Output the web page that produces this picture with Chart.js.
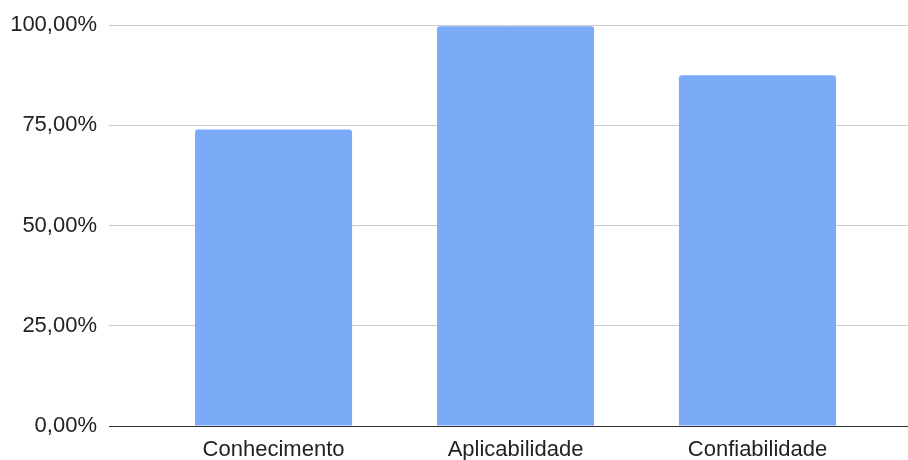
<!DOCTYPE html>
<html>
<head>
<meta charset="utf-8">
<script src="https://cdn.jsdelivr.net/npm/chart.js@4/dist/chart.umd.min.js"></script>
<style>
  html, body { margin: 0; padding: 0; background: #fff; }
  #box { width: 908px; height: 460px; }
</style>
</head>
<body>
<div id="box"><canvas id="grafico"></canvas></div>
<script>
  const categorias = ['Conhecimento', 'Aplicabilidade', 'Confiabilidade'];
  const valores = [74, 99.75, 87.5];
  const ticksY = [0, 25, 50, 75, 100];

  const pontos = valores.map((v, i) => ({ x: i, y: v }));
  const formatoPct = v => v.toFixed(2).replace('.', ',') + '%';

  new Chart(document.getElementById('grafico'), {
    type: 'bar',
    data: {
      datasets: [{
        data: pontos,
        backgroundColor: '#7baaf7',
        borderRadius: 3,
        categoryPercentage: 1,
        barPercentage: 0.649
      }]
    },
    options: {
      responsive: true,
      maintainAspectRatio: false,
      animation: false,
      layout: { padding: { top: 25, left: 10, right: 0, bottom: 0 } },
      plugins: { legend: { display: false }, tooltip: { enabled: false } },
      scales: {
        x: {
          type: 'linear',
          offset: false,
          min: -0.68,
          max: 2.622,
          grid: { display: false, drawTicks: false },
          border: { color: '#333', width: 1 },
          afterBuildTicks: s => { s.ticks = categorias.map((c, i) => ({ value: i })); },
          afterFit: s => { s.height = 34; },
          ticks: {
            padding: 14,
            maxRotation: 0,
            color: '#222',
            font: { family: 'Liberation Sans', size: 22, lineHeight: 0.9 },
            callback: v => categorias[v]
          }
        },
        y: {
          min: 0,
          max: 100,
          afterBuildTicks: s => { s.ticks = ticksY.map(v => ({ value: v })); },
          afterFit: s => { s.width = 99; },
          grid: { color: '#cccccc', drawTicks: false },
          border: { display: false },
          ticks: {
            padding: 12,
            color: '#222',
            font: { family: 'Liberation Sans', size: 22 },
            callback: v => formatoPct(v)
          }
        }
      }
    }
  });
</script>
</body>
</html>
